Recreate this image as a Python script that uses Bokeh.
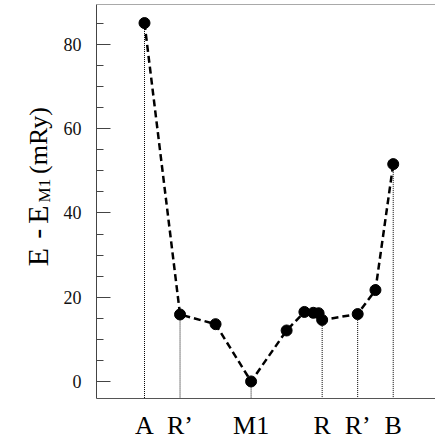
import math
from bokeh.plotting import figure
from bokeh.layouts import row
from bokeh.models import Range1d, FixedTicker, SingleIntervalTicker, Label, Span
from bokeh.embed import file_html
from bokeh.resources import INLINE

# ---- data ----
structure_x = [0, 1, 2, 3, 4, 4.5, 4.75, 4.9, 5, 6, 6.5, 7]
energy = [85.1, 15.9, 13.6, 0.0, 12.1, 16.5, 16.3, 16.2, 14.6, 16.0, 21.7, 51.6]
tick_positions = [0, 1, 3, 5, 6, 7]
tick_labels = ["A", "R\u2019", "M1", "R", "R\u2019", "B"]
y_ticks_interval = 20
y_label_parts = ["E", "-", "E", "M1", "(mRy)"]

X_START, X_END = -1.351, 8.19
Y_START, Y_END = -4.05, 89.5

FONT = "Liberation Serif"
W, H = 435, 444
LEFT_W = 60
FRAME_LEFT, FRAME_BOTTOM = 96, 398

# ---- left strip holding the rotated y-axis title (with subscript) ----
t = figure(width=LEFT_W, height=H, output_backend="svg", toolbar_location=None,
           x_range=Range1d(0, LEFT_W), y_range=Range1d(H, 0),
           x_axis_location=None, y_axis_location=None,
           min_border_left=0, min_border_right=0, min_border_top=0, min_border_bottom=0)
t.outline_line_color = None
t.xgrid.visible = False
t.ygrid.visible = False
t.background_fill_color = "white"
t.border_fill_color = "white"
label_px = [37, 37, 37, 44, 38]
label_py = [295, 264, 247, 223, 191]
label_fs = ["30px", "30px", "30px", "17px", "26px"]
for txt, px, py, fs in zip(y_label_parts, label_px, label_py, label_fs):
    t.add_layout(Label(x=px, y=py, text=txt, angle=math.pi / 2, text_font=FONT,
                       text_font_size=fs, text_color="black",
                       text_baseline="alphabetic", text_align="left"))

# ---- main plot ----
p = figure(width=W - LEFT_W, height=H, output_backend="svg", toolbar_location=None,
           x_range=Range1d(X_START, X_END), y_range=Range1d(Y_START, Y_END),
           min_border_left=FRAME_LEFT - LEFT_W, min_border_right=0, min_border_top=4,
           min_border_bottom=H - FRAME_BOTTOM)
p.outline_line_color = None
p.background_fill_color = "white"
p.border_fill_color = "white"
p.xgrid.visible = False
p.ygrid.visible = False

# x axis
xa = p.xaxis[0]
xa.ticker = FixedTicker(ticks=tick_positions)
xa.major_label_overrides = {float(tp): l for tp, l in zip(tick_positions, tick_labels)}
xa.major_tick_in = 0
xa.major_tick_out = 0
xa.minor_tick_in = 0
xa.minor_tick_out = 0
xa.axis_line_color = "#555555"
xa.axis_line_width = 1
xa.major_label_text_font = FONT
xa.major_label_text_font_size = "26px"
xa.major_label_text_color = "black"
xa.major_label_standoff = 12

# y axis
ya = p.yaxis[0]
ya.ticker = SingleIntervalTicker(interval=y_ticks_interval, num_minor_ticks=4)
ya.major_tick_in = 14
ya.major_tick_out = 0
ya.minor_tick_in = 7
ya.minor_tick_out = 0
ya.major_tick_line_color = "#444444"
ya.minor_tick_line_color = "#444444"
ya.axis_line_color = "#444444"
ya.major_label_text_font = FONT
ya.major_label_text_font_size = "18px"
ya.major_label_text_color = "#111111"
ya.major_label_standoff = 15

# top frame line
p.add_layout(Span(location=Y_END, dimension="width", line_color="#555555", line_width=1))

# drop lines
drop_y = [energy[structure_x.index(tp)] for tp in tick_positions]
p.segment(x0=tick_positions, y0=drop_y, x1=tick_positions, y1=[Y_START] * len(tick_positions),
          line_color="black", line_width=1, line_dash="1 1")

# dashed curve and points
p.line(structure_x, energy, line_color="black", line_width=2.5, line_dash="7 4")
p.scatter(structure_x, energy, size=11, color="black")

layout = row(t, p, spacing=0)
open("out.html", "w").write(file_html(layout, INLINE))
